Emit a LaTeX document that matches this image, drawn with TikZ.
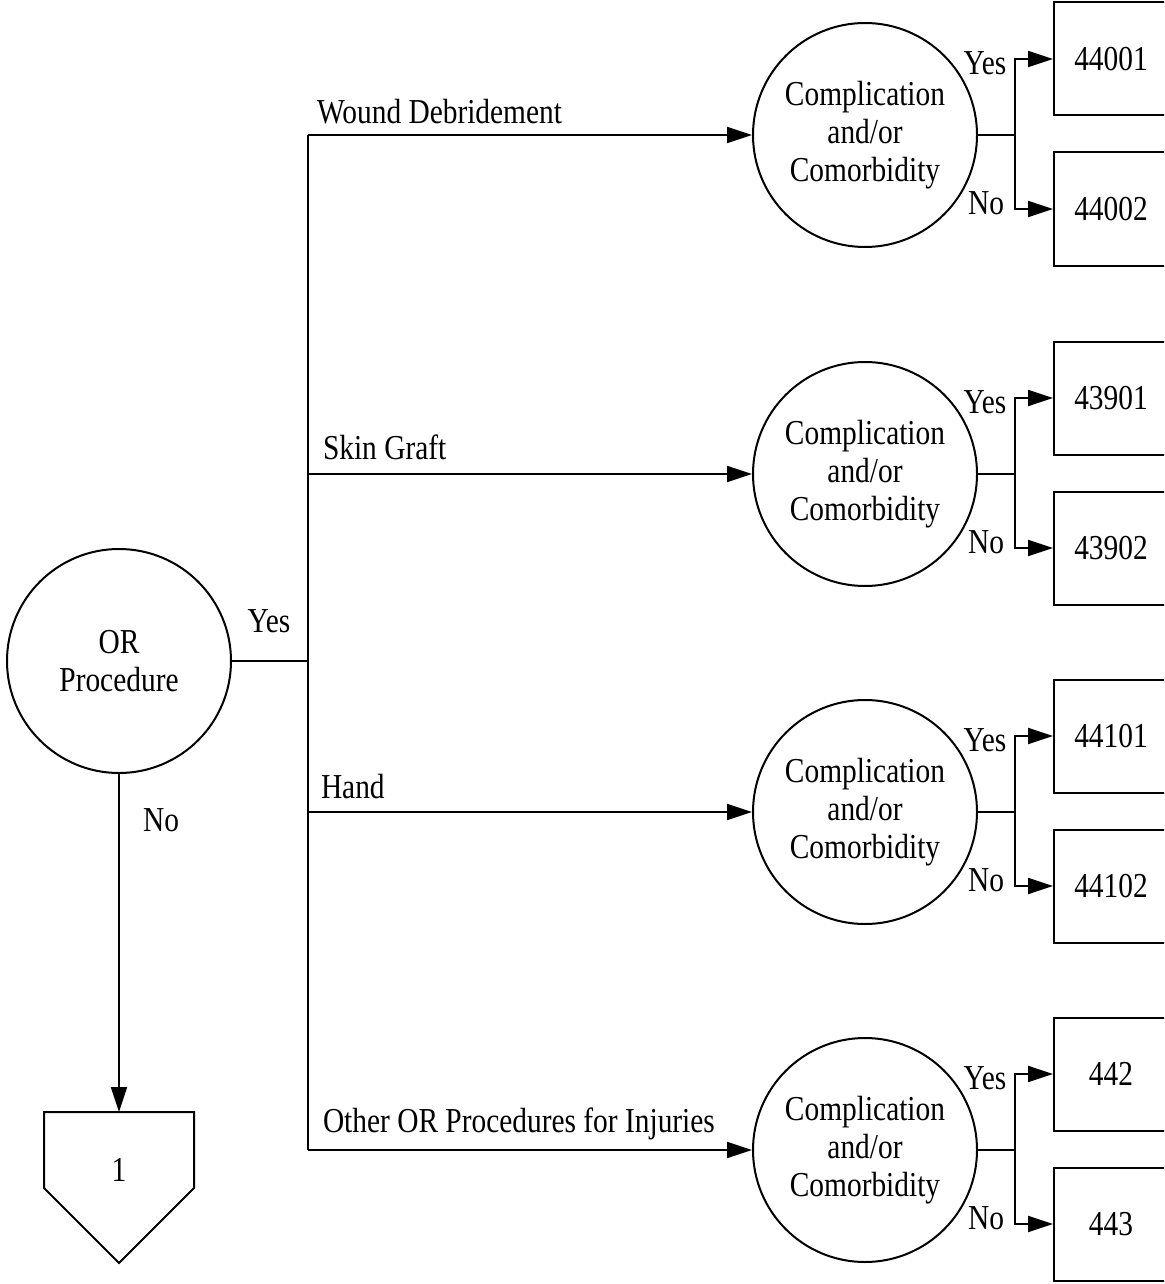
\documentclass[tikz,border=0pt]{standalone}
\usepackage{fontspec}
\setmainfont[FakeStretch=0.84]{Liberation Serif}
\usetikzlibrary{arrows.meta}
\begin{document}
\begin{tikzpicture}[x=1pt,y=-1pt,line width=2pt,
  every node/.style={font=\fontsize{35}{38}\selectfont},
  dec/.style={circle,draw,minimum size=224pt,inner sep=0pt,align=center},
  outbox/.style={draw,minimum width=114pt,minimum height=113pt,anchor=west,inner sep=0pt},
  lbl/.style={inner sep=0pt,anchor=base west},
  arr/.style={-{Triangle[length=25pt,width=16pt]}}]
\useasboundingbox (0,0) rectangle (1164,1284);
\clip (0,0) rectangle (1164,1284);
% main decision
\node[dec] (OR) at (119,661) {OR\\Procedure};
\coordinate (hub) at (308,661);
\draw (OR.east) -- (hub);
\node at (269,621) {Yes};
% groups
\foreach \i/\cy/\a/\b in {1/135/44001/44002,2/474/43901/43902,3/812/44101/44102,4/1150/442/443}{
  \node[dec] (c\i) at (865,\cy) {Complication\\and/or\\Comorbidity};
  \node[outbox] (ya\i) at (1053,{\cy-76}) {\a};
  \node[outbox] (na\i) at (1053,{\cy+74}) {\b};
  \coordinate (j\i) at (1015,\cy);
  \coordinate (t\i) at (308,\cy);
  \draw (c\i.east) -- (j\i);
  \draw[arr] (j\i) |- (ya\i.west);
  \draw[arr] (j\i) |- (na\i.west);
  \draw[arr] (t\i) -- (c\i.west);
  \node (yl\i) at (985,{\cy-72}) {Yes};
  \node (nl\i) at (986,{\cy+68}) {No};
}
\draw (t1) -- (t4);
% branch labels
\node[lbl] (l1) at (316,124) {Wound Debridement};
\node[lbl] (l2) at (322,459) {Skin Graft};
\node[lbl] (l3) at (320,798) {Hand};
\node[lbl] (l4) at (322,1132) {Other OR Procedures for Injuries};
% off-page connector
\coordinate (ptop) at (119,1112);
\draw (44,1112) -- (194,1112) -- (194,1188) -- (119,1263) -- (44,1188) -- cycle;
\node (p1) at (119,1170) {1};
\draw[arr] (OR.south) -- (ptop);
\node (nol) at (161,820) {No};
\end{tikzpicture}
\end{document}
